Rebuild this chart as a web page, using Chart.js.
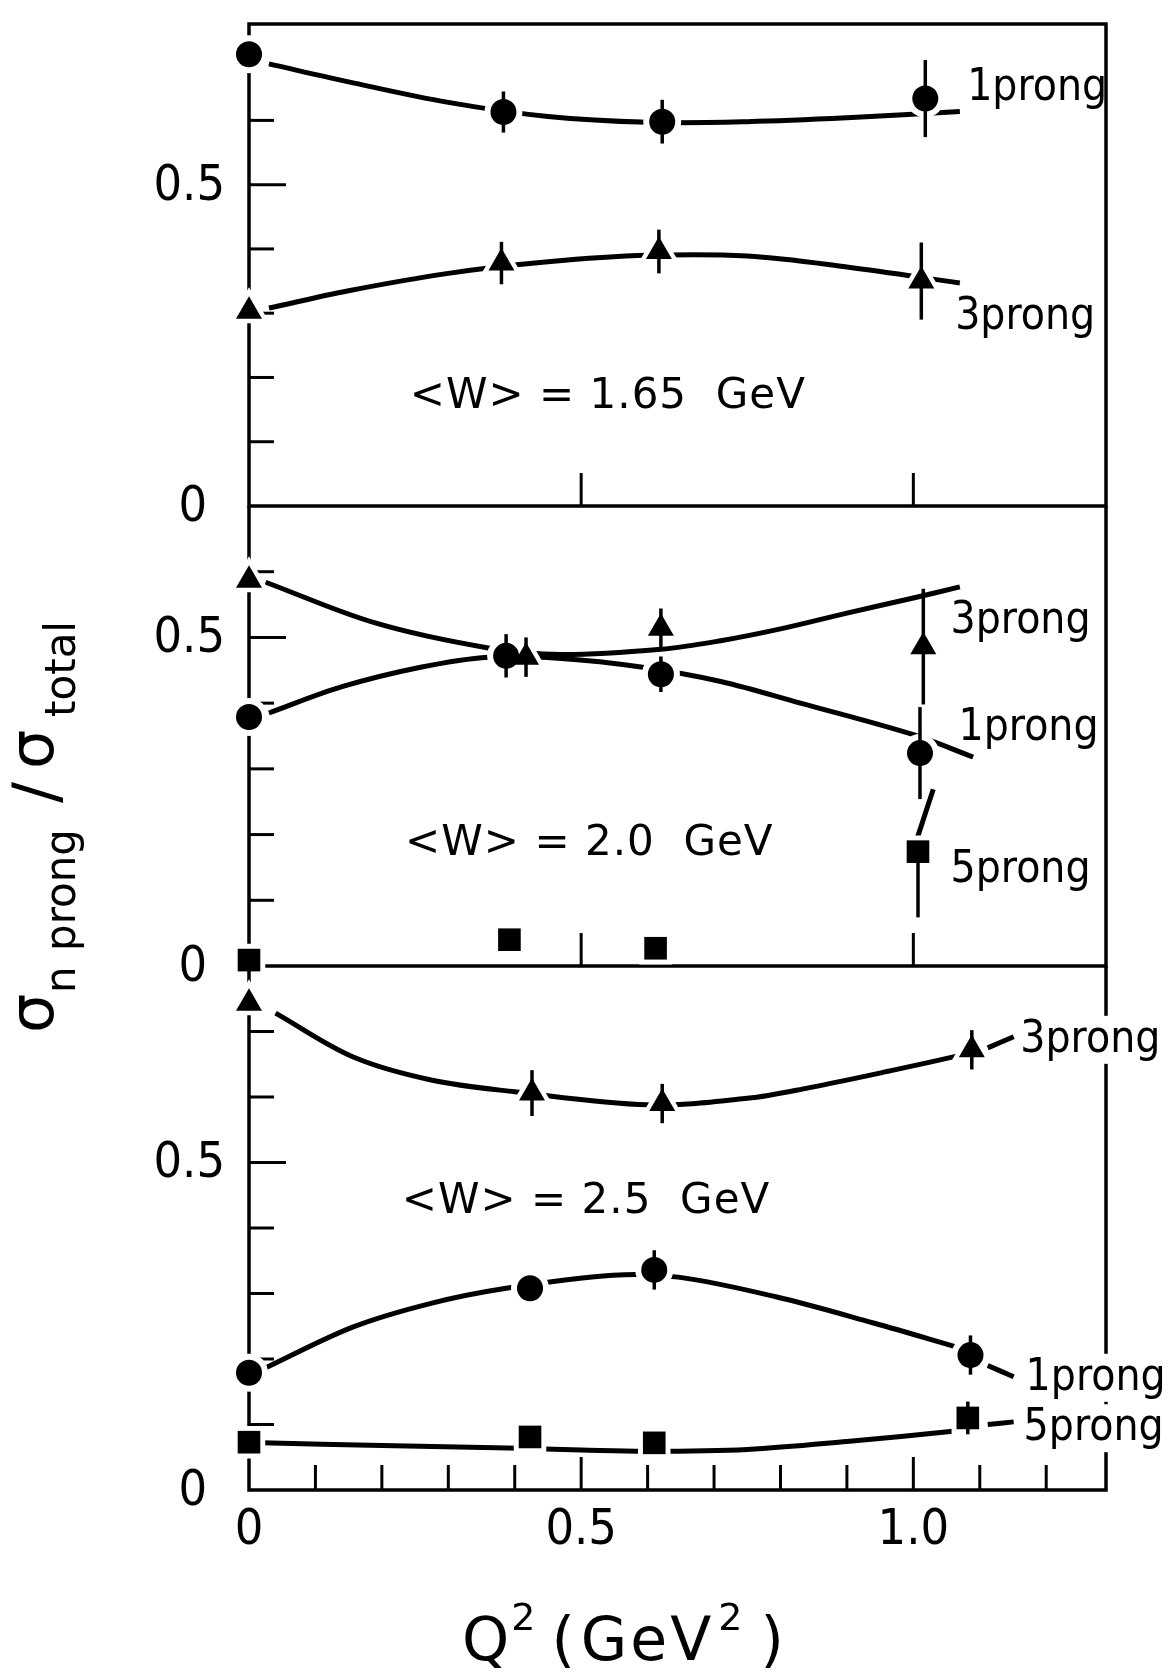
<!DOCTYPE html>
<html>
<head>
<meta charset="utf-8">
<script src="https://cdn.jsdelivr.net/npm/chart.js@4.4.0/dist/chart.umd.min.js"></script>
<style>
  html, body { margin: 0; padding: 0; background: #fff; }
  #wrap { position: relative; width: 1170px; height: 1672px; }
  #wrap canvas { position: absolute; left: 0; top: 0; }
</style>
</head>
<body>
<div id="wrap">
  <canvas id="c1" width="1170" height="1672"></canvas>
  <canvas id="c2" width="1170" height="1672"></canvas>
  <canvas id="c3" width="1170" height="1672"></canvas>
</div>
<script>
// ---- data (Q^2 in GeV^2, ratio sigma_n / sigma_total) ----

// <W> = 1.65 GeV
var q2_w165_1p = [0.0, 0.383, 0.622, 1.018];
var r_w165_1p  = [0.703, 0.613, 0.598, 0.634];
var e_w165_1p  = [0, 0.032, 0.034, 0.06];
var q2_w165_3p = [0.0, 0.38, 0.617, 1.012];
var r_w165_3p  = [0.303, 0.378, 0.396, 0.35];
var e_w165_3p  = [0, 0.033, 0.034, 0.06];
var fitq_w165    = [0.03, 0.15, 0.3, 0.45, 0.6, 0.75, 0.9, 1.07];
var fit_w165_1p  = [0.688, 0.66, 0.628, 0.606, 0.597, 0.598, 0.604, 0.614];
var fit_w165_3p  = [0.308, 0.335, 0.362, 0.38, 0.39, 0.389, 0.372, 0.347];

// <W> = 2.0 GeV
var q2_w20_1p = [0.0, 0.387, 0.62, 1.01];
var r_w20_1p  = [0.379, 0.472, 0.444, 0.324];
var e_w20_1p  = [0, 0.033, 0.027, 0.07];
var q2_w20_3p = [0.0, 0.417, 0.62, 1.015];
var r_w20_3p  = [0.587, 0.47, 0.514, 0.486];
var e_w20_3p  = [0, 0.03, 0.03, 0.088];
var q2_w20_5p = [0.0, 0.392, 0.612, 1.007];
var r_w20_5p  = [0.009, 0.04, 0.027, 0.174];
var e_w20_5p  = [0, 0, 0, 0.1];
var eup_w20_5p = [0, 0, 0, 0];
var fitq_w20_1p = [0.03, 0.14, 0.26, 0.36, 0.47, 0.59, 0.71, 0.83, 1.0, 1.09];
var fit_w20_1p  = [0.385, 0.425, 0.455, 0.47, 0.468, 0.455, 0.433, 0.40, 0.352, 0.318];
var fitq_w20_3p = [0.025, 0.19, 0.36, 0.47, 0.62, 0.71, 0.8, 0.9, 1.0, 1.07];
var fit_w20_3p  = [0.584, 0.522, 0.484, 0.474, 0.482, 0.495, 0.513, 0.537, 0.56, 0.577];
var fitq_w20_5p = [1.006, 1.03];
var fit_w20_5p  = [0.195, 0.269];

// <W> = 2.5 GeV
var q2_w25_1p = [0.0, 0.423, 0.61, 1.086];
var r_w25_1p  = [0.179, 0.308, 0.336, 0.206];
var e_w25_1p  = [0, 0.015, 0.03, 0.03];
var q2_w25_3p = [0.0, 0.426, 0.622, 1.088];
var r_w25_3p  = [0.743, 0.606, 0.59, 0.672];
var e_w25_3p  = [0, 0.035, 0.03, 0.03];
var q2_w25_5p = [0.0, 0.423, 0.61, 1.082];
var r_w25_5p  = [0.073, 0.081, 0.072, 0.11];
var e_w25_5p  = [0, 0, 0, 0.025];
var fitq_w25_3p = [0.04, 0.157, 0.274, 0.40, 0.6, 0.75, 0.842, 0.97, 1.077];
var fit_w25_3p  = [0.728, 0.661, 0.626, 0.608, 0.588, 0.598, 0.614, 0.641, 0.665];
var fitq_w25_1p = [0.024, 0.157, 0.274, 0.387, 0.548, 0.646, 0.793, 0.94, 1.07];
var fit_w25_1p  = [0.186, 0.249, 0.285, 0.308, 0.328, 0.325, 0.295, 0.255, 0.217];
var fitq_w25_5p = [0.02, 0.2, 0.39, 0.5, 0.6, 0.75, 0.9, 1.063];
var fit_w25_5p  = [0.072, 0.068, 0.064, 0.061, 0.059, 0.062, 0.074, 0.09];
// leader strokes to the labels
var leadq_w25     = [1.112, 1.151];
var lead_w25_3p   = [0.675, 0.692];
var lead_w25_1p   = [0.19, 0.173];
var lead_w25_5p   = [0.1, 0.104];

// ticks and tick labels
var yTicks_w165 = [0.1, 0.2, 0.3, 0.4, 0.5, 0.6];
var yTicks_w20  = [0.1, 0.2, 0.3, 0.4, 0.5, 0.6];
var yTicks_w25  = [0.1, 0.2, 0.3, 0.4, 0.5, 0.6, 0.7];
var xTicksMajor = [0.5, 1.0];
var xTicksAll   = [0.1, 0.2, 0.3, 0.4, 0.5, 0.6, 0.7, 0.8, 0.9, 1.0, 1.1, 1.2];
var yLabelVals  = [0, 0.5];
var yLabels     = ['0', '0.5'];
var xLabelVals  = [0, 0.5, 1.0];
var xLabels     = ['0', '0.5', '1.0'];

var Q_MAX = 1.29;
var PLOT_LEFT = 249, PLOT_RIGHT = 1106, PAGE_W = 1170, PAGE_H = 1672;
var NUM_FONT = '"DejaVu Sans Condensed", "Liberation Sans Narrow", "DejaVu Sans", sans-serif';
var TXT_FONT = '"DejaVu Sans", sans-serif';

function pts(xs, ys) {
  return xs.map(function (x, i) { return { x: x, y: ys[i] }; });
}

var MARK = {
  circle:   { style: 'circle',   r: 13, halo: 6 },
  triangle: { style: 'triangle', r: 15, halo: 9 },
  rect:     { style: 'rect',     r: 16, halo: 7 }
};

function fitSet(xs, ys) {
  return { data: pts(xs, ys), showLine: true, borderColor: '#000', borderWidth: 5,
           pointRadius: 0, tension: 0.35, fill: false, clip: false, order: 3 };
}
function markerSets(xs, ys, dn, up, kind) {
  var m = MARK[kind];
  return [
    { data: pts(xs, ys), pointStyle: m.style, pointRadius: m.r + m.halo,
      backgroundColor: '#fff', borderWidth: 0, clip: false, order: 2 },
    { data: pts(xs, ys), pointStyle: m.style, pointRadius: m.r,
      backgroundColor: '#000', borderWidth: 0, clip: false, order: 1,
      errDown: dn, errUp: up || dn }
  ];
}

var panels = [
  { id: 'c1', top: 12, bottom: 506, ymax: 0.75, frameTop: true,
    yTicks: yTicks_w165, xTicks: xTicksMajor, xTickLen: 32,
    wText: '<W> = 1.65  GeV', wAt: [0.242, 0.153],
    names: [['1prong', 1.081, 0.631, false], ['3prong', 1.063, 0.275, false]],
    sets: [].concat(
      [fitSet(fitq_w165, fit_w165_1p), fitSet(fitq_w165, fit_w165_3p)],
      markerSets(q2_w165_1p, r_w165_1p, e_w165_1p, null, 'circle'),
      markerSets(q2_w165_3p, r_w165_3p, e_w165_3p, null, 'triangle')) },
  { id: 'c2', top: 506, bottom: 966, ymax: 0.7, frameTop: false,
    yTicks: yTicks_w20, xTicks: xTicksMajor, xTickLen: 30,
    wText: '<W> = 2.0  GeV', wAt: [0.235, 0.169],
    names: [['3prong', 1.056, 0.507, false], ['1prong', 1.068, 0.344, false], ['5prong', 1.056, 0.128, false]],
    sets: [].concat(
      [fitSet(fitq_w20_1p, fit_w20_1p), fitSet(fitq_w20_3p, fit_w20_3p), fitSet(fitq_w20_5p, fit_w20_5p)],
      markerSets(q2_w20_1p, r_w20_1p, e_w20_1p, null, 'circle'),
      markerSets(q2_w20_3p, r_w20_3p, e_w20_3p, null, 'triangle'),
      markerSets(q2_w20_5p, r_w20_5p, e_w20_5p, eup_w20_5p, 'rect')) },
  { id: 'c3', top: 966, bottom: 1490, ymax: 0.8, frameTop: false, last: true,
    yTicks: yTicks_w25, xTicks: xTicksAll, xTickLen: 25,
    wText: '<W> = 2.5  GeV', wAt: [0.23, 0.423],
    names: [['3prong', 1.161, 0.669, true], ['1prong', 1.169, 0.153, true], ['5prong', 1.166, 0.076, true]],
    sets: [].concat(
      [fitSet(fitq_w25_3p, fit_w25_3p), fitSet(fitq_w25_1p, fit_w25_1p), fitSet(fitq_w25_5p, fit_w25_5p),
       fitSet(leadq_w25, lead_w25_3p), fitSet(leadq_w25, lead_w25_1p), fitSet(leadq_w25, lead_w25_5p)],
      markerSets(q2_w25_1p, r_w25_1p, e_w25_1p, null, 'circle'),
      markerSets(q2_w25_3p, r_w25_3p, e_w25_3p, null, 'triangle'),
      markerSets(q2_w25_5p, r_w25_5p, e_w25_5p, null, 'rect')) }
];

function line(ctx, x1, y1, x2, y2) {
  ctx.beginPath(); ctx.moveTo(x1, y1); ctx.lineTo(x2, y2); ctx.stroke();
}

function panelPlugin(p) {
  return {
    id: 'panel_' + p.id,
    beforeDatasetsDraw: function (chart) {
      var ctx = chart.ctx, a = chart.chartArea, x = chart.scales.x, y = chart.scales.y;
      ctx.save();
      ctx.strokeStyle = '#000';
      ctx.lineWidth = 3.5;
      ctx.beginPath();
      if (p.frameTop) {
        ctx.rect(a.left, a.top, a.right - a.left, a.bottom - a.top);
      } else {
        ctx.moveTo(a.left, a.top); ctx.lineTo(a.left, a.bottom);
        ctx.lineTo(a.right, a.bottom); ctx.lineTo(a.right, a.top);
      }
      ctx.stroke();
      ctx.lineWidth = 3;
      p.yTicks.forEach(function (v) {
        var py = y.getPixelForValue(v);
        line(ctx, a.left, py, a.left + (Math.abs(v - 0.5) < 1e-6 ? 37 : 25), py);
      });
      p.xTicks.forEach(function (v) {
        var px = x.getPixelForValue(v);
        var big = Math.abs(v - 0.5) < 1e-6 || Math.abs(v - 1) < 1e-6;
        line(ctx, px, a.bottom, px, a.bottom - (big ? Math.max(p.xTickLen, 33) : p.xTickLen));
      });
      ctx.restore();
    },
    afterDatasetsDraw: function (chart) {
      var ctx = chart.ctx, a = chart.chartArea, x = chart.scales.x, y = chart.scales.y;
      ctx.save();
      ctx.strokeStyle = '#000';
      ctx.fillStyle = '#000';
      ctx.lineWidth = 3.5;
      // error bars
      chart.data.datasets.forEach(function (ds) {
        if (!ds.errDown) return;
        ds.data.forEach(function (d, i) {
          var dn = ds.errDown[i], up = ds.errUp[i];
          if (!dn && !up) return;
          var px = x.getPixelForValue(d.x);
          line(ctx, px, y.getPixelForValue(d.y - dn), px, y.getPixelForValue(d.y + up));
        });
      });
      // y tick labels
      ctx.font = '50px ' + NUM_FONT;
      ctx.textBaseline = 'middle';
      ctx.textAlign = 'right';
      yLabelVals.forEach(function (v, i) {
        var off = yLabels[i] === '0' ? 42 : 24;
        ctx.fillText(yLabels[i], a.left - off, y.getPixelForValue(v) + 2);
      });
      // panel title
      ctx.textAlign = 'left';
      ctx.textBaseline = 'alphabetic';
      ctx.font = '42px ' + TXT_FONT;
      ctx.letterSpacing = '1px';
      ctx.fillText(p.wText, x.getPixelForValue(p.wAt[0]), y.getPixelForValue(p.wAt[1]));
      ctx.letterSpacing = '0px';
      // series names
      ctx.font = '44px ' + NUM_FONT;
      p.names.forEach(function (n) {
        var px = x.getPixelForValue(n[1]), py = y.getPixelForValue(n[2]);
        if (n[3]) {
          var w = ctx.measureText(n[0]).width;
          ctx.fillStyle = '#fff';
          ctx.fillRect(px - 2, py - 36, w + 6, 48);
          ctx.fillStyle = '#000';
        }
        ctx.fillText(n[0], px, py);
      });
      if (p.last) {
        // x tick labels
        ctx.font = '50px ' + NUM_FONT;
        ctx.textAlign = 'center';
        xLabelVals.forEach(function (v, i) {
          ctx.fillText(xLabels[i], x.getPixelForValue(v), a.bottom + 54);
        });
        // x axis title: Q^2 (GeV^2)
        ctx.textAlign = 'left';
        var tx = 462, ty = 1660;
        ctx.font = '60px ' + TXT_FONT;
        ctx.fillText('Q', tx, ty); tx += ctx.measureText('Q').width + 2;
        ctx.font = '38px ' + TXT_FONT;
        ctx.fillText('2', tx, ty - 30); tx += ctx.measureText('2').width + 16;
        ctx.font = '60px ' + TXT_FONT;
        ctx.fillText('(', tx, ty); tx += ctx.measureText('(').width + 6;
        ctx.letterSpacing = '3px';
        ctx.fillText('GeV', tx, ty); tx += ctx.measureText('GeV').width + 4;
        ctx.letterSpacing = '0px';
        ctx.font = '38px ' + TXT_FONT;
        ctx.fillText('2', tx, ty - 30); tx += ctx.measureText('2').width + 18;
        ctx.font = '60px ' + TXT_FONT;
        ctx.fillText(')', tx, ty);
        // y axis title: sigma_n prong / sigma_total (reads bottom to top)
        ctx.translate(53, 1033);
        ctx.rotate(-Math.PI / 2);
        ctx.font = '62px ' + TXT_FONT;
        ctx.fillText('\u03C3', 0, 0);
        ctx.font = '42px ' + TXT_FONT;
        ctx.fillText('n', 40, 22);
        ctx.fillText('prong', 82, 22);
        ctx.font = '62px ' + TXT_FONT;
        ctx.fillText('/', 230, 4);
        ctx.fillText('\u03C3', 264, 0);
        ctx.font = '42px ' + TXT_FONT;
        ctx.fillText('total', 316, 22);
      }
      ctx.restore();
    }
  };
}

panels.forEach(function (p) {
  new Chart(document.getElementById(p.id), {
    type: 'scatter',
    data: { datasets: p.sets },
    options: {
      responsive: false,
      devicePixelRatio: 1,
      animation: false,
      events: [],
      layout: { padding: { left: PLOT_LEFT, right: PAGE_W - PLOT_RIGHT, top: p.top, bottom: PAGE_H - p.bottom } },
      scales: {
        x: { type: 'linear', min: 0, max: Q_MAX, display: false },
        y: { type: 'linear', min: 0, max: p.ymax, display: false }
      },
      plugins: { legend: { display: false }, tooltip: { enabled: false } }
    },
    plugins: [panelPlugin(p)]
  });
});
</script>
</body>
</html>
